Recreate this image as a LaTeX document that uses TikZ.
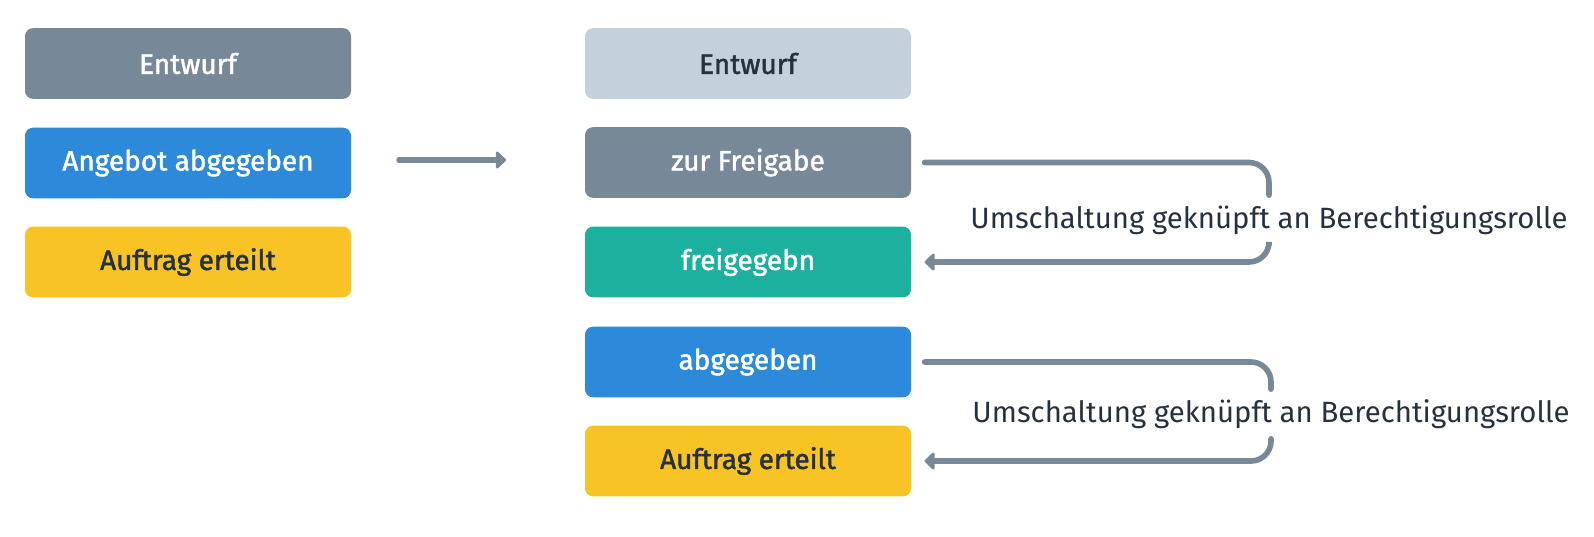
\documentclass[tikz,border=0pt]{standalone}
\usepackage{fontspec}
\setmainfont{Fira Sans}
\newfontfamily\boxfont{Fira Sans}[FakeBold=1.6]
\usepackage{tikz}
\usetikzlibrary{arrows.meta}
\definecolor{slate}{RGB}{119,136,153}
\definecolor{paleslate}{RGB}{196,209,219}
\definecolor{offerblue}{RGB}{45,138,219}
\definecolor{teal}{RGB}{28,176,158}
\definecolor{orderyellow}{RGB}{247,195,37}
\definecolor{ink}{RGB}{38,49,63}

\begin{document}
\begin{tikzpicture}[x=0.75pt,y=-0.75pt,
  state/.style={rounded corners=6pt,minimum width=244.5pt,minimum height=53pt,inner sep=0pt,font=\boxfont\fontsize{21}{25}\selectfont},
  flow/.style={slate,line width=4.2pt,line cap=round,rounded corners=15pt},
  tip/.style={-{Triangle[length=8pt,width=15pt,round]}},
  role/.style={text=ink,inner xsep=0pt,inner ysep=7.5pt,font=\fontsize{22}{26}\selectfont}]
\useasboundingbox (0,0) rectangle (1594,536);
\node[state,fill=slate,text=white] (draftL) at (188,63.5) {Entwurf};
\node[state,fill=offerblue,text=white] (offerL) at (188,163) {Angebot abgegeben};
\node[state,fill=orderyellow,text=ink] (orderL) at (188,262) {Auftrag erteilt};
\coordinate (migA) at (399,160);
\coordinate (migB) at (506,160);
\draw[flow,tip] (migA) -- (migB);
\node[state,fill=paleslate,text=ink] (draftR) at (748,63.5) {Entwurf};
\node[state,fill=slate,text=white] (release) at (748,162.5) {zur Freigabe};
\node[state,fill=teal,text=white] (approved) at (748,262) {freigegebn};
\node[state,fill=offerblue,text=white] (offerR) at (748,362) {abgegeben};
\node[state,fill=orderyellow,text=ink] (orderR) at (748,461) {Auftrag erteilt};
\node[role] (role1) at (1269,220) {Umschaltung geknüpft an Berechtigungsrolle};
\node[role] (role2) at (1271,414) {Umschaltung geknüpft an Berechtigungsrolle};
\draw[flow] ([xshift=10pt]release.east) -| (role1.north);
\draw[flow,tip] (role1.south) |- ([xshift=10pt]approved.east);
\draw[flow] ([xshift=10pt]offerR.east) -| (role2.north);
\draw[flow,tip] (role2.south) |- ([xshift=10pt]orderR.east);
\end{tikzpicture}
\end{document}
